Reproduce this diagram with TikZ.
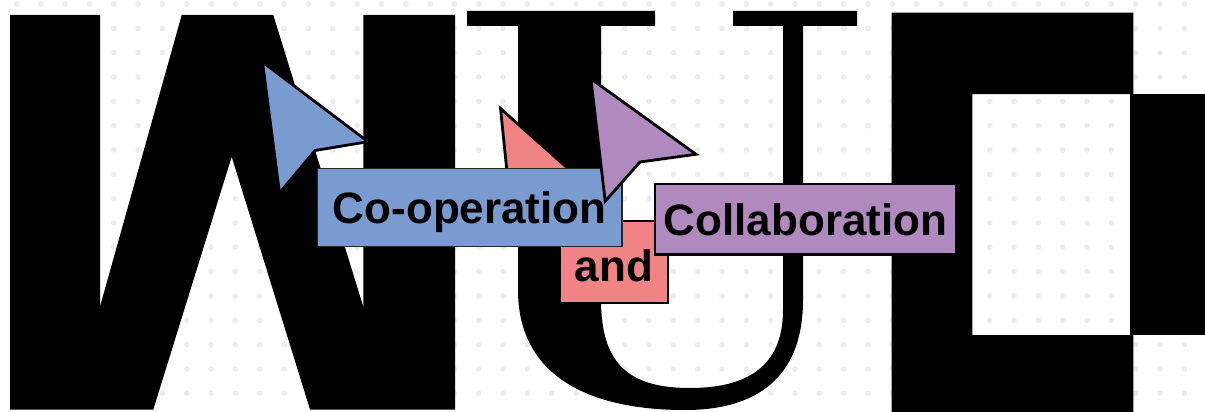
\documentclass[tikz,border=0pt]{standalone}
\usepackage{fontspec}
\setmainfont{Liberation Sans}
\definecolor{cblue}{HTML}{7A9BD0}
\definecolor{cpink}{HTML}{F08383}
\definecolor{cpurple}{HTML}{B08ABF}
\definecolor{cdot}{HTML}{ECECEC}
\tikzset{
  glyph/.style={fill=black},
  cursor/.style={draw=black, line width=2.8pt, line join=miter},
  gridpoint/.style={fill=cdot},
  labelbox/.style={inner sep=0pt, outer sep=0pt, font=\fontsize{44}{44}\selectfont\bfseries,
    text height=31.7pt, text depth=0pt, align=center}
}
\begin{document}
\begin{tikzpicture}[x=1pt,y=-1pt]
\useasboundingbox (0,0) rectangle (1205,412);
\clip (0,0) rectangle (1205,412);
\fill[white] (0,0) rectangle (1205,412);
% dot grid
\foreach \i in {0,...,48}{
  \foreach \j in {0,...,16}{
    \fill[gridpoint] (16.5+24.33*\i, 4+24.33*\j) circle (2.8pt);
  }
}
% W glyph
\fill[glyph] (10,15) -- (100,15) -- (100,306.7) -- (181.7,15) -- (273.3,15) -- (363.3,306.7)
  -- (363.3,15) -- (455,15) -- (455,409.5) -- (310,409.5) -- (231.7,156.7) -- (153.3,409.5)
  -- (10,409.5) -- cycle;
% U glyph
\fill[glyph] (467,11) -- (655,11) -- (655,26) -- (601,26) -- (601,300)
  .. controls (601,365) and (630,388) .. (690,388)
  .. controls (755,388) and (783,360) .. (783,310)
  -- (783,26) -- (733,26) -- (733,11) -- (857,11) -- (857,26) -- (803,26) -- (803,300)
  .. controls (803,370) and (765,410) .. (685,410)
  .. controls (580,410) and (518,370) .. (518,290)
  -- (518,26) -- (467,26) -- cycle;
% right block glyph
\fill[glyph, even odd rule] (891.7,12.7) rectangle (1133.3,413) (972.3,94) rectangle (1130,335);
\fill[glyph] (1130,93.5) rectangle (1206,334.5);
% pink cursor and box
\filldraw[cursor, fill=cpink] (500.5,108.5) -- (590.5,188.5) -- (545,196) -- (513,230) -- cycle;
\node[labelbox, fill=cpink, draw=black, line width=2pt, minimum width=108pt, minimum height=82pt,
  text height=38pt] (andbox) at (614,262) {and};
% blue cursor and box
\filldraw[cursor, fill=cblue] (262.5,62) -- (368,141.7) -- (315,150.5) -- (279.5,193) -- cycle;
\node[labelbox, fill=cblue, draw=black!85, line width=1.2pt, minimum width=304.7pt, minimum height=78.4pt]
  (coop) at (469.7,207.5) {Co-operation};
% purple cursor and box
\filldraw[cursor, fill=cpurple] (590.9,78.8) -- (696,154.3) -- (640,162) -- (605.2,201.2) -- cycle;
\node[labelbox, fill=cpurple, draw=black, line width=2.2pt, minimum width=301pt, minimum height=70.5pt]
  (collab) at (805.5,219.3) {Collaboration};
\end{tikzpicture}
\end{document}
